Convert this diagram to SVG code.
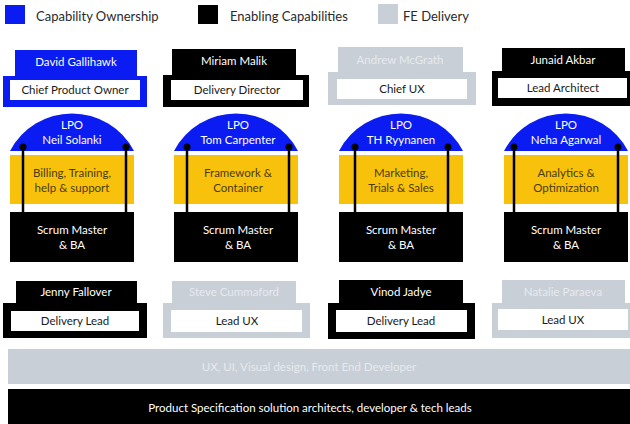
<svg xmlns="http://www.w3.org/2000/svg" width="630" height="424" viewBox="0 0 630 424">
<style>
text{font-family:"Lato","Noto Sans",sans-serif;text-anchor:middle}
.lg{font-size:13px;fill:#2a2a2a;text-anchor:start}
.t{font-size:11.5px}
.w{fill:#ffffff}
.wf{fill:#e6eaef}
.d{fill:#1a1a1a}
.y{fill:#4a3b0c}
.blue{fill:#0a1cf2}
.blk{fill:#000000}
.gry{fill:#c9cfd6}
.wh{fill:#ffffff}
.yel{fill:#f8c20c}
.ln{stroke:#000;stroke-width:2.5;fill:none}
</style>
<rect width="630" height="424" fill="#ffffff"/>
<g id="legend">
<rect x="5" y="5" width="20" height="19" class="blue"/>
<text x="36" y="21" class="lg">Capability Ownership</text>
<rect x="198" y="5" width="20" height="19" class="blk"/>
<text x="230" y="21" class="lg">Enabling Capabilities</text>
<rect x="378" y="4" width="20" height="20" class="gry"/>
<text x="403" y="21" class="lg">FE Delivery</text>
</g>
<g id="n-david">
<rect x="15" y="50" width="122" height="28" class="blue"/>
<rect x="3" y="76" width="144" height="31" class="blue"/>
<rect x="10" y="80" width="130" height="20" class="wh"/>
<text x="76" y="66" class="t w">David Gallihawk</text>
<text x="75" y="94" class="t d">Chief Product Owner</text>
</g>
<g id="n-miriam">
<rect x="172" y="49" width="124" height="27" class="blk"/>
<rect x="163" y="75" width="146" height="32" class="blk"/>
<rect x="171" y="80" width="132" height="20" class="wh"/>
<text x="234" y="65" class="t w">Miriam Malik</text>
<text x="237" y="94" class="t d">Delivery Director</text>
</g>
<g id="n-andrew">
<rect x="338" y="47" width="125" height="27" class="gry"/>
<rect x="328" y="72" width="148" height="33" class="gry"/>
<rect x="337" y="79" width="130" height="20" class="wh"/>
<text x="400" y="64" class="t wf">Andrew McGrath</text>
<text x="402" y="93" class="t d">Chief UX</text>
</g>
<g id="n-junaid">
<rect x="502" y="48" width="123" height="26" class="blk"/>
<rect x="492" y="71" width="138" height="35" class="blk"/>
<rect x="498" y="78" width="129" height="20" class="wh"/>
<text x="563" y="64" class="t w">Junaid Akbar</text>
<text x="563" y="92" class="t d">Lead Architect</text>
</g>

<g id="col1">
<path d="M10,151 A70,70 0 0 1 134,151 Z" class="blue"/>
<rect x="10" y="155" width="124" height="49" class="yel"/>
<rect x="10" y="212" width="124" height="50" class="blk"/>
<text x="72" y="129" class="t w">LPO</text>
<text x="72" y="144" class="t w">Neil Solanki</text>
<text x="72" y="177" class="t y">Billing, Training,</text>
<text x="72" y="192" class="t y">help &amp; support</text>
<text x="72" y="234" class="t w">Scrum Master</text>
<text x="72" y="249" class="t w">&amp; BA</text>
</g>
<g id="col2">
<path d="M174,151 A70,70 0 0 1 298,151 Z" class="blue"/>
<rect x="174" y="155" width="124" height="49" class="yel"/>
<rect x="174" y="212" width="124" height="50" class="blk"/>
<text x="238" y="129" class="t w">LPO</text>
<text x="238" y="144" class="t w">Tom Carpenter</text>
<text x="238" y="177" class="t y">Framework &amp;</text>
<text x="238" y="192" class="t y">Container</text>
<text x="238" y="234" class="t w">Scrum Master</text>
<text x="238" y="249" class="t w">&amp; BA</text>
</g>
<g id="col3">
<path d="M339,151 A70,70 0 0 1 463,151 Z" class="blue"/>
<rect x="339" y="155" width="124" height="49" class="yel"/>
<rect x="339" y="212" width="124" height="50" class="blk"/>
<text x="401" y="129" class="t w">LPO</text>
<text x="401" y="144" class="t w">TH Ryynanen</text>
<text x="401" y="177" class="t y">Marketing,</text>
<text x="401" y="192" class="t y">Trials &amp; Sales</text>
<text x="401" y="234" class="t w">Scrum Master</text>
<text x="401" y="249" class="t w">&amp; BA</text>
</g>
<g id="col4">
<path d="M504,151 A70,70 0 0 1 628,151 Z" class="blue"/>
<rect x="504" y="155" width="124" height="49" class="yel"/>
<rect x="504" y="212" width="124" height="50" class="blk"/>
<text x="566" y="129" class="t w">LPO</text>
<text x="566" y="144" class="t w">Neha Agarwal</text>
<text x="566" y="177" class="t y">Analytics &amp;</text>
<text x="566" y="192" class="t y">Optimization</text>
<text x="566" y="234" class="t w">Scrum Master</text>
<text x="566" y="249" class="t w">&amp; BA</text>
</g>

<g id="connectors">
<line x1="23" y1="147" x2="23" y2="212" class="ln"/>
<line x1="126" y1="147" x2="126" y2="212" class="ln"/>
<line x1="187" y1="147" x2="187" y2="212" class="ln"/>
<line x1="289" y1="147" x2="289" y2="212" class="ln"/>
<line x1="355" y1="147" x2="355" y2="212" class="ln"/>
<line x1="448" y1="147" x2="448" y2="212" class="ln"/>
<line x1="514" y1="147" x2="514" y2="212" class="ln"/>
<line x1="618" y1="147" x2="618" y2="212" class="ln"/>
<circle cx="23" cy="147" r="3.5"/>
<circle cx="126" cy="147" r="3.5"/>
<circle cx="187" cy="147" r="3.5"/>
<circle cx="289" cy="147" r="3.5"/>
<circle cx="355" cy="147" r="3.5"/>
<circle cx="448" cy="147" r="3.5"/>
<circle cx="514" cy="147" r="3.5"/>
<circle cx="618" cy="147" r="3.5"/>
</g>

<g id="n-jenny">
<rect x="16" y="281" width="121" height="23" class="blk"/>
<rect x="3" y="303" width="144" height="35" class="blk"/>
<rect x="11" y="311" width="128" height="20" class="wh"/>
<text x="76" y="296" class="t w">Jenny Fallover</text>
<text x="75" y="325" class="t d">Delivery Lead</text>
</g>
<g id="n-steve">
<rect x="172" y="281" width="124" height="23" class="gry"/>
<rect x="163" y="303" width="147" height="35" class="gry"/>
<rect x="171" y="310" width="131" height="22" class="wh"/>
<text x="234" y="296" class="t wf">Steve Cummaford</text>
<text x="237" y="325" class="t d">Lead UX</text>
</g>
<g id="n-vinod">
<rect x="339" y="280" width="124" height="24" class="blk"/>
<rect x="328" y="303" width="147" height="36" class="blk"/>
<rect x="336" y="310" width="131" height="22" class="wh"/>
<text x="401" y="296" class="t w">Vinod Jadye</text>
<text x="401" y="325" class="t d">Delivery Lead</text>
</g>
<g id="n-natalie">
<rect x="502" y="280" width="123" height="24" class="gry"/>
<rect x="492" y="303" width="138" height="35" class="gry"/>
<rect x="498" y="309" width="130" height="21" class="wh"/>
<text x="563" y="296" class="t wf">Natalie Paraeva</text>
<text x="563" y="324" class="t d">Lead UX</text>
</g>

<g id="bar-fe">
<rect x="8" y="349" width="622" height="35" class="gry"/>
<text x="309" y="371" class="t wf">UX, UI, Visual design, Front End Developer</text>
</g>
<g id="bar-spec">
<rect x="8" y="389" width="622" height="35" class="blk"/>
<text x="310" y="412" class="t w">Product Specification solution architects, developer &amp; tech leads</text>
</g>
</svg>
